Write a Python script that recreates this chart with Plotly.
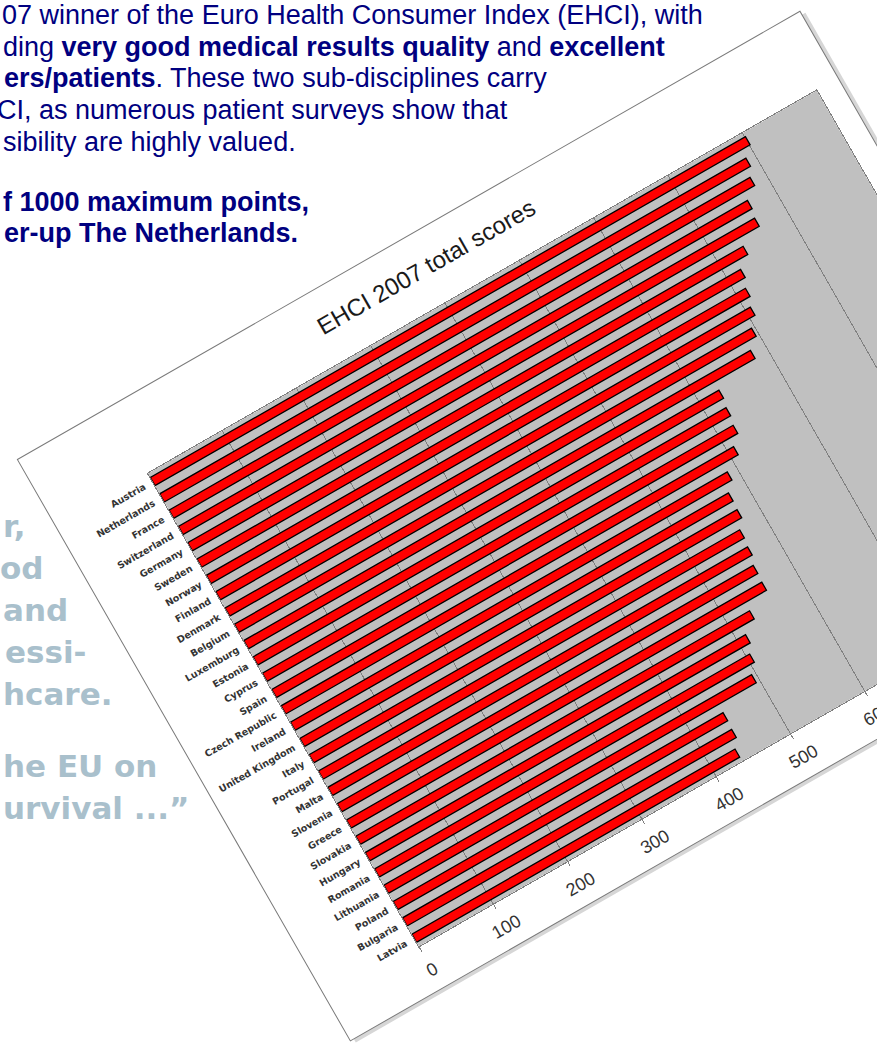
import plotly.graph_objects as go

# ---------------- data ----------------
countries = ["Austria", "Netherlands", "France", "Switzerland", "Germany", "Sweden",
             "Norway", "Finland", "Denmark", "Belgium", "Luxemburg", "Estonia",
             "Cyprus", "Spain", "Czech Republic", "Ireland", "United Kingdom", "Italy",
             "Portugal", "Malta", "Slovenia", "Greece", "Slovakia", "Hungary",
             "Romania", "Lithuania", "Poland", "Bulgaria", "Latvia"]
scores = [801, 789, 782, 766, 763, 735, 719, 713, 707, 696, 682, 627,
          624, 621, 609, 588, 577, 576, 567, 565, 560, 559, 530, 512,
          505, 495, 444, 443, 435]
x_ticks = [0, 100, 200, 300, 400, 500, 600, 700, 800, 900]
chart_title = "EHCI 2007 total scores"

intro_lines = [
    "07 winner of the Euro Health Consumer Index (EHCI), with",
    "ding <b>very good medical results quality</b> and <b>excellent</b>",
    "<b>ers/patients</b>. These two sub-disciplines carry",
    "CI, as numerous patient surveys show that",
    "sibility are highly valued.",
    "<b>f 1000 maximum points,</b>",
    "<b>er-up The Netherlands.</b>",
]
side_lines = ["r,", "od", "and", "essi-", "hcare.", "he EU on", "urvival ...\u201d"]

# ---------------- layout helpers ----------------
W, H = 877, 1045
def px(x):
    return x / W
def py(y):
    return 1 - y / H

intro_pos = [(-5, 15), (-4, 47), (-3, 78), (-10, 110), (-4, 142), (-4, 202), (-3, 233)]
side_pos = [(-4, 526), (-7, 568), (-4, 610), (-2, 652), (-4, 694), (-4, 766), (-4, 808)]

fig = go.Figure()
fig.add_trace(go.Bar(
    x=scores, y=countries, orientation="h",
    marker=dict(color="#ff0000", line=dict(color="#000000", width=1.3)),
    hoverinfo="x+y",
))

annotations = []
for txt, (x, y) in zip(intro_lines, intro_pos):
    annotations.append(dict(
        text=txt, xref="paper", yref="paper", x=px(x), y=py(y),
        xanchor="left", yanchor="middle", showarrow=False,
        font=dict(family="Liberation Sans, Arial, sans-serif", size=27, color="#000080"),
    ))
for txt, (x, y) in zip(side_lines, side_pos):
    annotations.append(dict(
        text=txt, xref="paper", yref="paper", x=px(x), y=py(y),
        xanchor="left", yanchor="middle", showarrow=False,
        font=dict(family="DejaVu Sans, Verdana, sans-serif", size=31,
                  color="#a9c0cc", weight="bold"),
    ))

# chart frame (drawn in an unrotated frame; rotated afterwards)
P0X = -10
shapes = [
    dict(type="rect", xref="paper", yref="paper", layer="below",
         x0=px(P0X + 4), x1=px(P0X + 911), y0=py(674), y1=py(4),
         fillcolor="#d6d6d6", line=dict(width=0)),
    dict(type="rect", xref="paper", yref="paper", layer="below",
         x0=px(P0X), x1=px(P0X + 907), y0=py(670), y1=py(0),
         fillcolor="#ffffff", line=dict(color="#7a7a7a", width=1)),
    dict(type="rect", xref="x domain", yref="y domain", layer="below",
         x0=0, x1=1, y0=0, y1=1, fillcolor="#c0c0c0", line=dict(width=0)),
]

fig.update_layout(
    width=W, height=H, autosize=False,
    margin=dict(l=0, r=0, t=0, b=0),
    paper_bgcolor="#ffffff", plot_bgcolor="#c0c0c0",
    showlegend=False, bargap=0.5,
    title=dict(text=chart_title, x=px(P0X + 453), xref="paper", xanchor="center",
               y=py(36), yref="paper", yanchor="middle",
               font=dict(family="Liberation Sans, Arial, sans-serif", size=24, color="#1a1a1a")),
    xaxis=dict(domain=[px(P0X + 107), px(P0X + 882)], range=[0, 900], tickvals=x_ticks,
               showgrid=True, gridcolor="#808080", gridwidth=1, zeroline=False,
               showline=True, linecolor="#808080", linewidth=1, mirror=True,
               ticks="outside", ticklen=5, tickcolor="#808080", ticklabelstandoff=5,
               tickfont=dict(family="Liberation Sans, Arial, sans-serif", size=18, color="#333333")),
    yaxis=dict(domain=[py(622), py(77)], categoryorder="array", categoryarray=countries,
               autorange="reversed", showgrid=False, zeroline=False,
               showline=True, linecolor="#808080", linewidth=1, mirror=True,
               ticks="", ticklabelstandoff=6,
               tickfont=dict(family="DejaVu Sans, Verdana, sans-serif", size=9.5,
                             color="#333333", weight="bold")),
    annotations=annotations,
    shapes=shapes,
)

post_script = """
document.body.style.margin = '0';
document.body.style.overflow = 'hidden';
var gd = document.getElementById('{plot_id}');
var T = 'translate(13,462) rotate(-29.8) translate(10,0)';
function rot(){
  var svgs = gd.querySelectorAll('svg.main-svg');
  if (!svgs.length) return;
  var els = [];
  Array.prototype.forEach.call(svgs[0].children, function(e){
    if (e.tagName.toLowerCase() === 'g') els.push(e);
  });
  var t = gd.querySelector('.g-gtitle');
  if (t) els.push(t);
  els.forEach(function(e){
    var cur = e.getAttribute('transform') || '';
    if (cur.indexOf(T) !== 0) e.setAttribute('transform', (T + ' ' + cur).trim());
  });
}
rot();
gd.on('plotly_afterplot', rot);
"""

fig.write_html("out.html", post_script=post_script,
               config={"displayModeBar": False})
